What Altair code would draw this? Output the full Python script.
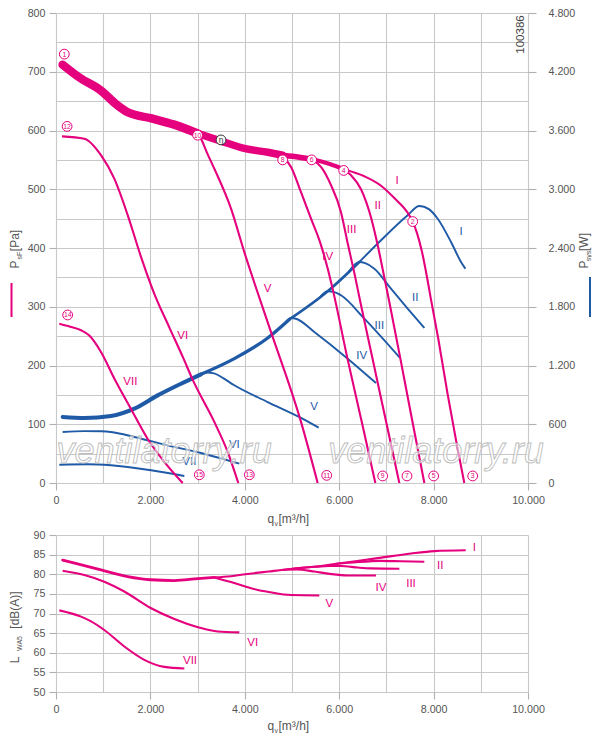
import altair as alt
import pandas as pd

MAG = "#e5007d"
BLU = "#1f5aa6"
GRID = "#c8c8c8"
TICK = "#b0b0b0"
TXT = "#555555"
DARK = "#333333"
FONT = "Liberation Sans"

ROMAN = ["I", "II", "III", "IV", "V", "VI", "VII"]

# ---------------- top chart: static pressure psF [Pa] over qv [m3/h]
env_q = [141, 500, 953, 1300, 1519, 2006, 2507, 3000, 3496, 4011, 4485, 4800, 5014, 5420, 5800, 6095]
env_p = [712, 690, 668, 643, 631, 621, 610, 595, 582, 569, 563, 558, 556, 551, 543, 534]

pI_q = [6095, 6533, 6886, 7168, 7451, 7557, 7650, 7750, 7850, 7950, 8100, 8300, 8500, 8651]
pI_v = [534, 522, 506, 485, 460, 445, 425, 395, 355, 310, 245, 150, 62, 0]
pII_q = [6095, 6250, 6462, 6674, 6815, 6956, 7062, 7300, 7550, 7804]
pII_v = [534, 524, 500, 452, 405, 350, 308, 210, 105, 0]
pIII_q = [5420, 5614, 5826, 6038, 6180, 6330, 6448, 6700, 7000, 7274]
pIII_v = [551, 538, 507, 461, 408, 354, 308, 214, 102, 0]
pIV_q = [4800, 4979, 5191, 5403, 5614, 5756, 5862, 6180, 6500, 6766]
pIV_v = [556, 538, 495, 450, 405, 365, 330, 210, 96, 0]
pV_q = [3000, 3072, 3200, 3354, 3708, 3990, 4500, 5191, 5544]
pV_v = [595, 586, 562, 535, 467, 393, 270, 104, 0]
pVI_q = [127, 600, 953, 1235, 1519, 1801, 2083, 2400, 2700, 2900, 3354, 3637, 3862]
pVI_v = [590, 586, 558, 518, 456, 385, 322, 265, 212, 175, 104, 53, 0]
pVII_q = [70, 300, 530, 706, 953, 1235, 1589, 1943, 2295, 2684]
pVII_v = [271, 266, 260, 251, 223, 178, 126, 75, 36, 0]

# system power Psys [W]
wenv_q = [141, 600, 1165, 1659, 2154, 2648, 3072, 3778, 4485, 4943, 5756, 6426]
wenv_v = [674, 664, 684, 759, 895, 1014, 1110, 1270, 1481, 1670, 1958, 2257]
wI_q = [6426, 6886, 7451, 7698, 7900, 8087, 8369, 8581, 8672]
wI_v = [2257, 2479, 2734, 2829, 2797, 2699, 2461, 2257, 2189]
wII_q = [6200, 6426, 6550, 6745, 7097, 7450, 7803]
wII_v = [2156, 2257, 2245, 2189, 1984, 1782, 1583]
wIII_q = [5600, 5756, 5900, 6038, 6533, 7288]
wIII_v = [1902, 1958, 1950, 1917, 1678, 1277]
wIV_q = [4850, 4979, 5100, 5473, 6180, 6780]
wIV_v = [1632, 1685, 1675, 1542, 1270, 1021]
wV_q = [3072, 3200, 3350, 3550, 3778, 4485, 5191, 5565]
wV_v = [1110, 1128, 1120, 1068, 998, 827, 665, 565]
wVI_q = [141, 600, 953, 1200, 1659, 2366, 3072, 3884]
wVI_v = [521, 530, 528, 518, 470, 385, 306, 197]
wVII_q = [70, 672, 1165, 2013, 2719]
wVII_v = [187, 191, 181, 130, 71]

# ---------------- bottom chart: sound power LWA5 [dB(A)]
lenv_q = [141, 500, 953, 1519, 2006, 2507, 3008, 3354]
lenv_v = [83.6, 82.5, 81.1, 79.4, 78.6, 78.4, 78.9, 79.2]
lI_q = [3354, 3707, 4011, 4500, 5014, 5473, 6017, 6815, 7521, 8015, 8680]
lI_v = [79.2, 79.5, 80.0, 80.7, 81.4, 81.9, 82.8, 84.1, 85.3, 85.9, 86.1]
lII_q = [5900, 6300, 6886, 7300, 7803]
lII_v = [82.6, 83.0, 83.4, 83.3, 83.2]
lIII_q = [5014, 5473, 5800, 6038, 6400, 6674, 7274]
lIII_v = [81.4, 81.9, 82.1, 82.1, 81.7, 81.5, 81.4]
lIV_q = [4800, 5100, 5473, 5800, 6180, 6780]
lIV_v = [81.1, 81.2, 80.7, 80.1, 79.7, 79.7]
lV_q = [3354, 3708, 4011, 4273, 4500, 4979, 5579]
lV_v = [79.2, 78.0, 76.9, 76.0, 75.5, 74.7, 74.6]
lVI_q = [141, 600, 1023, 1447, 2006, 2507, 3008, 3425, 3884]
lVI_v = [80.9, 79.8, 78.1, 75.6, 71.4, 68.6, 66.5, 65.4, 65.2]
lVII_q = [70, 530, 742, 1023, 1447, 1871, 2295, 2719]
lVII_v = [70.8, 69.2, 68.0, 65.8, 61.6, 58.2, 56.4, 56.0]

# operating point markers
mk_id = [str(i) for i in range(1, 16)]
mk_q = [176, 7557, 8828, 6095, 8001, 5417, 7436, 4802, 6921, 3000, 5735, 235, 4096, 247, 3036]
mk_p = [730, 445, 12, 532, 12, 550, 12, 550, 12, 592, 13, 607, 14, 286, 14]
eta_q = [3496]
eta_p = [584]

# curve labels
lab_p_q = [7225, 6815, 6264, 5756, 4485, 2684, 1575]
lab_p_v = [514, 471, 430, 385, 331, 251, 172]
lab_w_q = [8581, 7612, 6850, 6477, 5466, 3778, 2825]
lab_w_v = [2563, 1889, 1603, 1297, 776, 385, 214]
lab_l_q = [8863, 8142, 7521, 6886, 5791, 4167, 2839]
lab_l_v = [86.6, 82.1, 77.5, 76.4, 72.4, 62.5, 58.0]

wm_text = ["ventilatorry.ru", "ventilatorry.ru"]
wm_q = [2290, 8050]
wm_p = [53, 53]


def long_df(qs, vs):
    rows = []
    for name, q, v in zip(ROMAN, qs, vs):
        for a, b in zip(q, v):
            rows.append({"curve": name, "q": a, "v": b})
    return pd.DataFrame(rows)


GERMAN = "replace(format(datum.value, ','), ',', '.')"

x_axis = alt.Axis(values=list(range(0, 10001, 1000)),
                  labelExpr=f"datum.value % 2000 === 0 ? {GERMAN} : ''",
                  labelFlush=False, labelOverlap=False, tickSize=7,
                  tickColor={"condition": {"test": "datum.value % 2000 === 0", "value": TICK},
                             "value": "transparent"},
                  labelPadding=5, grid=True, domain=False, title=None)
X = alt.X("q:Q", scale=alt.Scale(domain=[0, 10000], nice=False), axis=x_axis)

yp_axis = alt.Axis(values=list(range(0, 801, 50)),
                   labelExpr="datum.value % 100 === 0 ? datum.label : ''",
                   labelOverlap=False, tickSize=7,
                   tickColor={"condition": {"test": "datum.value % 100 === 0", "value": TICK},
                              "value": "transparent"},
                   labelPadding=4, grid=True, domain=False, title=None, orient="left")
YP = alt.Y("v:Q", scale=alt.Scale(domain=[0, 800], nice=False), axis=yp_axis)

yw_axis = alt.Axis(values=list(range(0, 4801, 600)), labelExpr=GERMAN, labelOverlap=False,
                   tickSize=8, tickColor=TICK, labelPadding=12, grid=False, domain=False,
                   title=None, orient="right")
YW = alt.Y("v:Q", scale=alt.Scale(domain=[0, 4800], nice=False), axis=yw_axis)

yl_axis = alt.Axis(values=list(range(50, 91, 5)), labelOverlap=False, tickSize=7,
                   tickColor=TICK, labelPadding=4, grid=True, domain=False, title=None,
                   orient="left")
YL = alt.Y("v:Q", scale=alt.Scale(domain=[50, 90], nice=False, zero=False), axis=yl_axis)


def seg(df, lo, hi, width, color, y):
    return (alt.Chart(df)
            .transform_filter((alt.datum.q >= lo) & (alt.datum.q <= hi))
            .mark_line(color=color, strokeWidth=width, interpolate="monotone", strokeCap="round")
            .encode(x=X, y=y))


def curves(df, width, color, y):
    return (alt.Chart(df)
            .mark_line(color=color, strokeWidth=width, interpolate="monotone")
            .encode(x=X, y=y, detail="curve:N"))


def labels(qs, vs, color, y, size=11.5):
    df = pd.DataFrame({"q": qs, "v": vs, "t": ROMAN})
    return (alt.Chart(df)
            .mark_text(color=color, fontSize=size, font=FONT, align="center", baseline="middle")
            .encode(x=X, y=y, text="t:N"))


def note(s, x, y, size=12, color=TXT, angle=0, align="center", baseline="middle"):
    return (alt.Chart(pd.DataFrame({"k": [0]}))
            .mark_text(text=s, fontSize=size, font=FONT, color=color, angle=angle,
                       align=align, baseline=baseline)
            .encode(x=alt.value(x), y=alt.value(y)))


def vrule(x, y1, y2, color):
    return (alt.Chart(pd.DataFrame({"k": [0]}))
            .mark_rule(color=color, strokeWidth=2)
            .encode(x=alt.value(x), y=alt.value(y1), y2=alt.value(y2)))


# ---- blue group (Psys)
wenv_df = pd.DataFrame({"q": wenv_q, "v": wenv_v})
w_df = long_df([wI_q, wII_q, wIII_q, wIV_q, wV_q, wVI_q, wVII_q],
               [wI_v, wII_v, wIII_v, wIV_v, wV_v, wVI_v, wVII_v])
blue_group = alt.layer(
    seg(wenv_df, 141, 3072, 4.0, BLU, YW),
    seg(wenv_df, 3072, 4943, 3.3, BLU, YW),
    seg(wenv_df, 4943, 6426, 2.7, BLU, YW),
    curves(w_df, 1.9, BLU, YW),
    labels(lab_w_q, lab_w_v, BLU, YW),
)

# ---- magenta group (psF)
penv_df = pd.DataFrame({"q": env_q, "v": env_p})
p_df = long_df([pI_q, pII_q, pIII_q, pIV_q, pV_q, pVI_q, pVII_q],
               [pI_v, pII_v, pIII_v, pIV_v, pV_v, pVI_v, pVII_v])
mk_df = pd.DataFrame({"q": mk_q, "v": mk_p, "t": mk_id})
eta_df = pd.DataFrame({"q": eta_q, "v": eta_p, "t": ["η"]})
wm_df = pd.DataFrame({"q": wm_q, "v": wm_p, "t": wm_text})

watermark = (alt.Chart(wm_df)
             .mark_text(fontSize=36, font=FONT, fontStyle="italic", fill="white", fillOpacity=0.55,
                        stroke="#bdbdbd", strokeWidth=0.9, align="center", baseline="middle")
             .encode(x=X, y=YP, text="t:N"))
circles = (alt.Chart(mk_df)
           .mark_point(shape="circle", size=96, filled=True, fill="white", stroke=MAG,
                       strokeWidth=1, opacity=1)
           .encode(x=X, y=YP))
circ_txt = (alt.Chart(mk_df)
            .mark_text(color=MAG, fontSize=6.8, font=FONT, align="center", baseline="middle", dy=0.5)
            .encode(x=X, y=YP, text="t:N"))
eta_c = (alt.Chart(eta_df)
         .mark_point(shape="circle", size=96, filled=True, fill="white", stroke=DARK,
                     strokeWidth=1, opacity=1)
         .encode(x=X, y=YP))
eta_t = (alt.Chart(eta_df)
         .mark_text(color=DARK, fontSize=8.5, font=FONT, align="center", baseline="middle")
         .encode(x=X, y=YP, text="t:N"))

mag_group = alt.layer(
    seg(penv_df, 141, 3000, 8.5, MAG, YP),
    seg(penv_df, 3000, 4800, 7.5, MAG, YP),
    seg(penv_df, 4800, 5420, 5.5, MAG, YP),
    seg(penv_df, 5420, 6095, 4.0, MAG, YP),
    curves(p_df, 2.1, MAG, YP),
    watermark,
    circles, circ_txt, eta_c, eta_t,
    labels(lab_p_q, lab_p_v, MAG, YP),
    note("P", -37.5, 251.5, angle=270, baseline="alphabetic"),
    note("sF", -34, 242.5, size=7, angle=270, baseline="alphabetic"),
    note("[Pa]", -37.5, 227.5, angle=270, baseline="alphabetic"),
    vrule(-44.5, 270, 304, MAG),
    note("P", 531.5, 251.5, angle=270, baseline="alphabetic"),
    note("sys", 535, 243, size=7, angle=270, baseline="alphabetic"),
    note("[W]", 531.5, 229, angle=270, baseline="alphabetic"),
    vrule(534, 264, 304, BLU),
    note("100386", 465, 21.5, size=11.5, color="#444444", angle=270),
    note("q", 211.5, 510, align="left", baseline="alphabetic"),
    note("v", 218.4, 513, size=7, align="left", baseline="alphabetic"),
    note("[m³/h]", 222.5, 510, align="left", baseline="alphabetic"),
)

top = (alt.layer(blue_group, mag_group)
       .resolve_scale(y="independent")
       .properties(width=472, height=470))

# ---- bottom chart
lenv_df = pd.DataFrame({"q": lenv_q, "v": lenv_v})
l_df = long_df([lI_q, lII_q, lIII_q, lIV_q, lV_q, lVI_q, lVII_q],
               [lI_v, lII_v, lIII_v, lIV_v, lV_v, lVI_v, lVII_v])
bottom = alt.layer(
    seg(lenv_df, 141, 3354, 2.8, MAG, YL),
    curves(l_df, 2.1, MAG, YL),
    labels(lab_l_q, lab_l_v, MAG, YL),
    note("L", -37.5, 125, angle=270, baseline="alphabetic"),
    note("WA5", -34, 108.5, size=7, angle=270, baseline="alphabetic"),
    note("[dB(A)]", -37.5, 75, angle=270, baseline="alphabetic"),
    note("q", 211.5, 195, align="left", baseline="alphabetic"),
    note("v", 218.4, 198, size=7, align="left", baseline="alphabetic"),
    note("[m³/h]", 222.5, 195, align="left", baseline="alphabetic"),
).properties(width=472, height=157)

chart = (alt.vconcat(top, bottom, spacing=52, bounds="flush")
         .properties(padding={"left": 0, "top": -1, "right": 0, "bottom": 2})
         .configure_axis(labelFont=FONT, labelFontSize=10.7, labelColor=TXT,
                         gridColor=GRID, gridWidth=1.1, tickWidth=1.1)
         .configure_view(stroke=None))

chart.save("out.html", embed_options={"renderer": "svg", "actions": False})
